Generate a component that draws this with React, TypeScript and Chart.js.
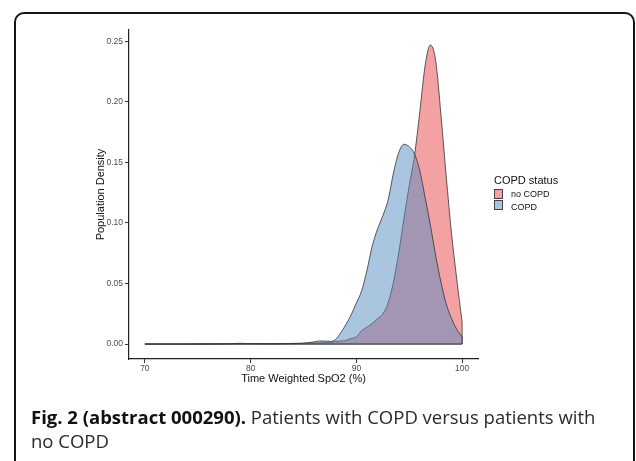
import React, { useEffect, useRef } from "react";
import { Chart, registerables } from "chart.js";

Chart.register(...registerables);

// Time-weighted SpO2 grid (%)
const spo2 = [70, 72, 74, 76, 78, 79, 80, 82, 84, 85, 85.5, 86, 86.5, 87, 87.5, 88, 88.5, 89, 89.5, 90, 90.5, 91, 91.5, 92, 92.5, 93, 93.5, 94, 94.5, 95, 95.5, 96, 96.5, 97, 97.5, 98, 98.5, 99, 99.5, 100];

// Population density, COPD
const copdDensity = [0, 0, 0, 0.0002, 0.0003, 0.0006, 0.0004, 0.0002, 0.0005, 0.0008, 0.0012, 0.0018, 0.0025, 0.0025, 0.0022, 0.0035, 0.009, 0.016, 0.024, 0.034, 0.044, 0.061, 0.081, 0.095, 0.106, 0.119, 0.141, 0.158, 0.165, 0.163, 0.157, 0.143, 0.121, 0.098, 0.073, 0.051, 0.033, 0.021, 0.012, 0.006];

// Population density, no COPD
const noCopdDensity = [0, 0, 0, 0, 0.0001, 0.0002, 0.0002, 0.0002, 0.0003, 0.0005, 0.0007, 0.0009, 0.001, 0.0012, 0.0015, 0.002, 0.0025, 0.003, 0.0045, 0.006, 0.011, 0.014, 0.017, 0.021, 0.025, 0.034, 0.051, 0.075, 0.104, 0.131, 0.156, 0.192, 0.23, 0.247, 0.234, 0.189, 0.138, 0.091, 0.053, 0.018];

const xTicks = [70, 80, 90, 100];
const yTicks = [0, 0.05, 0.1, 0.15, 0.2, 0.25];

const seriesNames = ["no COPD", "COPD"];
const legendTitle = "COPD status";
const xTitle = "Time Weighted SpO2 (%)";
const yTitle = "Population Density";

const FILL_NO = "rgba(231,68,72,0.5)";
const FILL_COPD = "rgba(83,140,193,0.5)";
const SWATCH_NO = "#F3A1A3";
const SWATCH_COPD = "#A9C5E0";
const OUTLINE = "#333333";

const closeOutline = {
  id: "closeOutline",
  afterDatasetDraw(chart: any, args: any) {
    const pts = args.meta.data;
    if (!pts || !pts.length) return;
    const ds = chart.data.datasets[args.index];
    const y0 = chart.scales.y.getPixelForValue(0);
    const first = pts[0];
    const last = pts[pts.length - 1];
    const ctx = chart.ctx;
    ctx.save();
    ctx.strokeStyle = ds.borderColor;
    ctx.lineWidth = ds.borderWidth;
    ctx.beginPath();
    ctx.moveTo(last.x, last.y);
    ctx.lineTo(last.x, y0);
    ctx.lineTo(first.x, y0);
    ctx.stroke();
    ctx.restore();
  },
};

export default function App() {
  const ref = useRef<HTMLCanvasElement | null>(null);

  useEffect(() => {
    if (!ref.current) return;
    const tickFont = { family: "'Liberation Sans', Arial, sans-serif", size: 8.5 };
    const titleFont = { family: "'Liberation Sans', Arial, sans-serif", size: 11 };
    const chart = new Chart(ref.current, {
      type: "line",
      data: {
        datasets: [
          {
            label: seriesNames[1],
            data: spo2.map((x, i) => ({ x, y: copdDensity[i] })),
            backgroundColor: FILL_COPD,
            borderColor: OUTLINE,
            borderWidth: 0.8,
            fill: "origin",
            pointRadius: 0,
            cubicInterpolationMode: "monotone",
          },
          {
            label: seriesNames[0],
            data: spo2.map((x, i) => ({ x, y: noCopdDensity[i] })),
            backgroundColor: FILL_NO,
            borderColor: OUTLINE,
            borderWidth: 0.8,
            fill: "origin",
            pointRadius: 0,
            cubicInterpolationMode: "monotone",
          },
        ],
      },
      options: {
        animation: false,
        responsive: false,
        devicePixelRatio: 1,
        layout: { padding: { left: 79, top: 30, right: 158, bottom: 72 } },
        plugins: { legend: { display: false }, tooltip: { enabled: false } },
        scales: {
          x: {
            type: "linear",
            min: 68.5,
            max: 101.5,
            afterBuildTicks: (s: any) => {
              s.ticks = xTicks.map((v) => ({ value: v }));
            },
            afterFit: (s: any) => {
              s.height = 30;
            },
            ticks: {
              color: "#4D4D4D",
              font: tickFont,
              padding: 1,
              maxRotation: 0,
              autoSkip: false,
              callback: (v: any) => String(v),
            },
            grid: { display: true, drawOnChartArea: false, drawTicks: true, tickLength: 4, color: "#333", lineWidth: 1 },
            border: { display: true, color: "#222", width: 1.2 },
            title: { display: true, text: xTitle, color: "#111", font: titleFont, padding: { top: 0, bottom: 3.4 } },
          },
          y: {
            type: "linear",
            min: -0.01235,
            max: 0.2594,
            afterBuildTicks: (s: any) => {
              s.ticks = yTicks.map((v) => ({ value: v }));
            },
            afterFit: (s: any) => {
              s.width = 50;
            },
            ticks: {
              color: "#4D4D4D",
              font: tickFont,
              padding: 2,
              autoSkip: false,
              callback: (v: any) => Number(v).toFixed(2),
            },
            grid: { display: true, drawOnChartArea: false, drawTicks: true, tickLength: 4, color: "#333", lineWidth: 1 },
            border: { display: true, color: "#222", width: 1.2 },
            title: { display: true, text: yTitle, color: "#111", font: titleFont, padding: { top: 15.4, bottom: 0 } },
          },
        },
      },
      plugins: [closeOutline],
    } as any);
    return () => chart.destroy();
  }, []);

  const legendFont = "'Liberation Sans', Arial, sans-serif";

  return (
    <div style={{ position: "absolute", left: 0, top: 0, width: 636, height: 461, background: "#fff", overflow: "hidden" }}>
      <div
        style={{
          position: "absolute",
          left: 14,
          top: 12,
          width: 621,
          height: 500,
          border: "2px solid #151515",
          borderRadius: 10,
          boxSizing: "border-box",
        }}
      />
      <canvas ref={ref} width={636} height={461} style={{ position: "absolute", left: 0, top: 0, width: 636, height: 461 }} />
      <div style={{ position: "absolute", left: 494, top: 174, fontFamily: legendFont, fontSize: 11, color: "#111", lineHeight: "13px", whiteSpace: "nowrap" }}>
        {legendTitle}
      </div>
      {[SWATCH_NO, SWATCH_COPD].map((c, i) => (
        <React.Fragment key={i}>
          <div
            style={{
              position: "absolute",
              left: 494,
              top: 189 + i * 11,
              width: 9,
              height: 10,
              background: c,
              border: "1px solid #444",
              boxSizing: "border-box",
            }}
          />
          <div
            style={{
              position: "absolute",
              left: 511,
              top: 189 + i * 12.5,
              fontFamily: legendFont,
              fontSize: 9,
              lineHeight: "11px",
              color: "#111",
              whiteSpace: "nowrap",
            }}
          >
            {seriesNames[i]}
          </div>
        </React.Fragment>
      ))}
      <div
        style={{
          position: "absolute",
          left: 31,
          top: 405,
          fontFamily: "'Open Sans', sans-serif",
          fontSize: 18.5,
          lineHeight: "24px",
          color: "#2a2a2a",
          whiteSpace: "nowrap",
        }}
      >
        <span style={{ fontWeight: 700, color: "#111" }}>Fig. 2 (abstract 000290).</span> Patients with COPD versus patients with
        <br />
        no COPD
      </div>
    </div>
  );
}
